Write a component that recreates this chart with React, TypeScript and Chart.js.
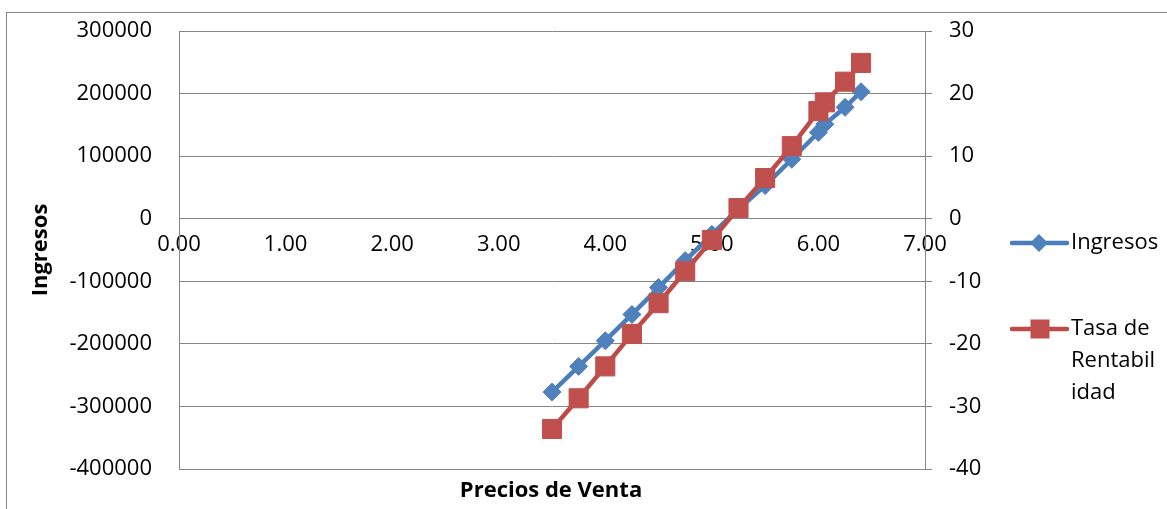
import React, { useEffect, useRef } from "react";
import { Chart, registerables } from "chart.js";

Chart.register(...registerables);

// ---- data ----
const precios = [3.5, 3.75, 4.0, 4.25, 4.5, 4.75, 5.0, 5.25, 5.5, 5.75, 6.0, 6.06, 6.25, 6.4];
const ingresos = [-277000, -236000, -195000, -153000, -110000, -67000, -25000, 15500, 53000, 95000, 138000, 151000, 178000, 203000];
const tasaRentabilidad = [-33.6, -28.7, -23.6, -18.4, -13.5, -8.4, -3.4, 1.7, 6.5, 11.6, 17.2, 18.6, 21.9, 24.9];

const xTickValues = [0, 1, 2, 3, 4, 5, 6, 7];
const leftTickValues = [-400000, -300000, -200000, -100000, 0, 100000, 200000, 300000];
const rightTickValues = [-40, -30, -20, -10, 0, 10, 20, 30];

const seriesNames = ["Ingresos", "Tasa de Rentabilidad"];
const legendLines = [["Ingresos"], ["Tasa de", "Rentabil", "idad"]];
const xTitle = "Precios de Venta";
const yTitle = "Ingresos";

const FONT = "'Open Sans', sans-serif";
const GRID = "#868686";
const BLUE_LINE = "#4A7EBB";
const BLUE_FILL = "#4F81BD";
const RED_LINE = "#BE4B48";
const RED_FILL = "#C0504D";

const decorPlugin = {
  id: "decor",
  beforeDraw(chart: any) {
    const ctx = chart.ctx;
    ctx.save();
    ctx.fillStyle = "#ffffff";
    ctx.fillRect(0, 0, chart.width, chart.height);
    ctx.strokeStyle = GRID;
    ctx.lineWidth = 1;
    ctx.strokeRect(6.5, 12.5, chart.width + 50, chart.height + 50);
    ctx.restore();
  },
  afterDraw(chart: any) {
    const ctx = chart.ctx;
    const area = chart.chartArea;
    ctx.save();
    // x axis title
    ctx.fillStyle = "#000";
    ctx.font = `bold 22px ${FONT}`;
    ctx.textAlign = "center";
    ctx.textBaseline = "middle";
    ctx.fillText(xTitle, (area.left + area.right) / 2 - 1, 491);

    // legend
    const lx0 = 1012;
    const lx1 = 1067;
    const rows = [243, 329];
    ctx.lineCap = "round";
    ctx.font = `22px ${FONT}`;
    ctx.textAlign = "left";
    rows.forEach((y, i) => {
      ctx.strokeStyle = i === 0 ? BLUE_LINE : RED_LINE;
      ctx.lineWidth = 4.5;
      ctx.beginPath();
      ctx.moveTo(lx0, y);
      ctx.lineTo(lx1, y);
      ctx.stroke();
      ctx.fillStyle = i === 0 ? BLUE_FILL : RED_FILL;
      const cx = i === 0 ? 1039 : 1040;
      if (i === 0) {
        ctx.beginPath();
        ctx.moveTo(cx, y - 9);
        ctx.lineTo(cx + 9, y);
        ctx.lineTo(cx, y + 9);
        ctx.lineTo(cx - 9, y);
        ctx.closePath();
        ctx.fill();
      } else {
        ctx.fillRect(cx - 9.5, y - 9.5, 19, 19);
      }
      ctx.fillStyle = "#000";
      legendLines[i].forEach((t, k) => {
        ctx.fillText(t, 1071, y + k * 32);
      });
    });
    ctx.restore();
  },
};

export default function App() {
  const ref = useRef<HTMLCanvasElement | null>(null);

  useEffect(() => {
    if (!ref.current) return;
    const chart = new Chart(ref.current, {
      type: "line",
      data: {
        datasets: [
          {
            label: seriesNames[1],
            data: precios.map((x, i) => ({ x, y: tasaRentabilidad[i] })),
            xAxisID: "x",
            yAxisID: "y1",
            borderColor: RED_LINE,
            backgroundColor: RED_FILL,
            borderWidth: 4.5,
            pointStyle: "rect",
            pointRadius: 13.5,
            pointBackgroundColor: RED_FILL,
            pointBorderColor: RED_FILL,
            pointBorderWidth: 1,
            tension: 0,
            order: 1,
          },
          {
            label: seriesNames[0],
            data: precios.map((x, i) => ({ x, y: ingresos[i] })),
            xAxisID: "x",
            yAxisID: "y",
            borderColor: BLUE_LINE,
            backgroundColor: BLUE_FILL,
            borderWidth: 4.5,
            pointStyle: "rectRot",
            pointRadius: 9,
            pointBackgroundColor: BLUE_FILL,
            pointBorderColor: BLUE_FILL,
            pointBorderWidth: 1,
            tension: 0,
            order: 2,
          },
        ],
      },
      options: {
        responsive: false,
        animation: false,
        layout: { padding: { left: 8, right: 167, top: 31, bottom: 40 } },
        plugins: {
          legend: { display: false },
          tooltip: { enabled: false },
        },
        scales: {
          x: {
            type: "linear",
            position: { y: 0 } as any,
            min: xTickValues[0],
            max: xTickValues[xTickValues.length - 1],
            afterFit: (s: any) => {
              s.height = 0;
              s.paddingLeft = 0;
              s.paddingRight = 0;
            },
            afterBuildTicks: (s: any) => {
              s.ticks = xTickValues.map((v) => ({ value: v }));
            },
            grid: { display: false, drawTicks: false },
            border: { display: false },
            ticks: {
              autoSkip: false,
              maxRotation: 0,
              padding: 13,
              color: "#000",
              font: { family: FONT, size: 22 },
              callback: (v: any) => Number(v).toFixed(2),
            },
          },
          y: {
            position: "left",
            min: leftTickValues[0],
            max: leftTickValues[leftTickValues.length - 1],
            afterFit: (s: any) => {
              s.width = 171;
              s.paddingTop = 0;
              s.paddingBottom = 0;
            },
            afterBuildTicks: (s: any) => {
              s.ticks = leftTickValues.map((v) => ({ value: v }));
            },
            grid: { color: GRID, lineWidth: 1, drawTicks: false },
            border: { display: true, color: GRID, width: 1 },
            ticks: {
              padding: 27,
              color: "#000",
              font: { family: FONT, size: 22 },
              callback: (v: any) => String(v),
            },
            title: {
              display: true,
              text: yTitle,
              color: "#000",
              font: { family: FONT, size: 22, weight: "bold" },
              padding: { top: 20, bottom: 0 },
            },
          },
          y1: {
            position: "right",
            min: rightTickValues[0],
            max: rightTickValues[rightTickValues.length - 1],
            afterFit: (s: any) => {
              s.width = 75;
              s.paddingTop = 0;
              s.paddingBottom = 0;
            },
            afterBuildTicks: (s: any) => {
              s.ticks = rightTickValues.map((v) => ({ value: v }));
            },
            grid: { drawOnChartArea: false, drawTicks: true, tickLength: 7, color: GRID },
            border: { display: true, color: GRID, width: 1 },
            ticks: {
              padding: 17,
              color: "#000",
              font: { family: FONT, size: 22 },
              callback: (v: any) => String(v),
            },
          },
        },
      },
      plugins: [decorPlugin],
    });
    return () => chart.destroy();
  }, []);

  return (
    <div style={{ position: "fixed", left: 0, top: 0, width: 1167, height: 509, background: "#fff" }}>
      <canvas ref={ref} width={1167} height={509} style={{ display: "block" }} />
    </div>
  );
}
